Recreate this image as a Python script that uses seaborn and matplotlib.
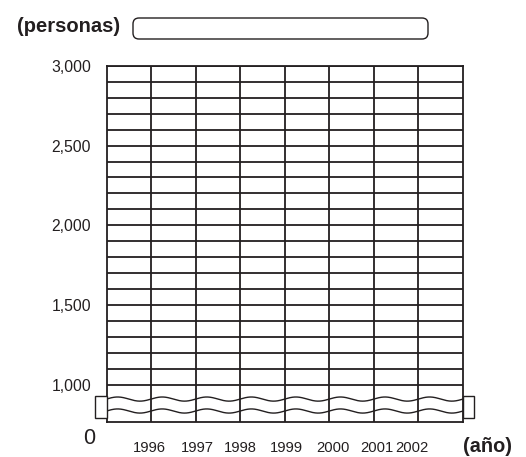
import numpy as np
import matplotlib
matplotlib.use("Agg")
import matplotlib.pyplot as plt
import seaborn as sns
from matplotlib.patches import FancyBboxPatch, Rectangle
from matplotlib.transforms import IdentityTransform, ScaledTranslation

# ---- data ----
years = ["1996", "1997", "1998", "1999", "2000", "2001", "2002"]
y_tick_values = [1000, 1500, 2000, 2500, 3000]
y_tick_labels = ["1,000", "1,500", "2,000", "2,500", "3,000"]
grid_rows = list(range(1000, 3001, 100))
n_columns = 8
y_unit_label = "(personas)"
x_unit_label = "(año)"
zero_label = "0"

sns.set_theme(style="white")
plt.rcParams["font.family"] = ["Liberation Sans", "DejaVu Sans"]

W, H = 526, 457
fig = plt.figure(figsize=(W / 100, H / 100), dpi=100)
fig.patch.set_facecolor("white")

ax_left, ax_right, ax_top, ax_bottom = 106.5, 463, 66, 422
ax = fig.add_axes([ax_left / W, 1 - ax_bottom / H, (ax_right - ax_left) / W, (ax_bottom - ax_top) / H])
ax.set_facecolor("white")

y_bottom = 765
ax.set_xlim(0, n_columns)
ax.set_ylim(y_bottom, 3000)

ink = "#231f20"
for v in grid_rows:
    ax.axhline(v, color=ink, lw=1.3, zorder=2)
for c in range(1, n_columns):
    ax.axvline(c, color=ink, lw=1.3, zorder=2)

for s in ax.spines.values():
    s.set_visible(True)
    s.set_color(ink)
    s.set_linewidth(1.3)

# wavy break lines
xs = np.linspace(0, n_columns, 800)
for base in (909, 834):
    ax.plot(xs, base + 13 * np.sin(2 * np.pi * xs), color=ink, lw=1.0, zorder=3)

# break markers at both ends
for x0 in (-0.25, n_columns):
    ax.add_patch(Rectangle((x0, 790), 0.25, 138, facecolor="white", edgecolor=ink,
                           lw=1.0, clip_on=False, zorder=4))

ax.set_yticks(y_tick_values)
ax.set_yticklabels(y_tick_labels)
ax.set_xticks(range(1, len(years) + 1))
ax.set_xticklabels(years)
ax.tick_params(axis="y", length=0, pad=11, labelsize=11.3, labelcolor=ink)
ax.tick_params(axis="x", length=0, pad=14, labelsize=10.6, labelcolor=ink)
ax.grid(False)

# small horizontal nudges of the year labels (pixels)
label_nudges = [-1.5, 1.5, 0, 2, 3.5, 3, -7]
for lab, dx in zip(ax.get_xticklabels(), label_nudges):
    lab.set_transform(lab.get_transform() + ScaledTranslation(dx / 100, 0, fig.dpi_scale_trans))

ax.text(-0.38, 664, zero_label, fontsize=15.5, color=ink, ha="center", va="center", clip_on=False)

idt = IdentityTransform()
fig.text(487 / W, 1 - 447 / H, x_unit_label, fontsize=14.3, fontweight="bold", color=ink,
         ha="center", va="center")
fig.text(68.5 / W, 1 - 26 / H, y_unit_label, fontsize=14.5, fontweight="bold", color=ink,
         ha="center", va="center")

box = FancyBboxPatch((133, H - 39), 295, 21, boxstyle="round,pad=0,rounding_size=6",
                     facecolor="white", edgecolor=ink, lw=1.0, transform=idt)
fig.patches.append(box)

fig.savefig("out.png", dpi=100)
